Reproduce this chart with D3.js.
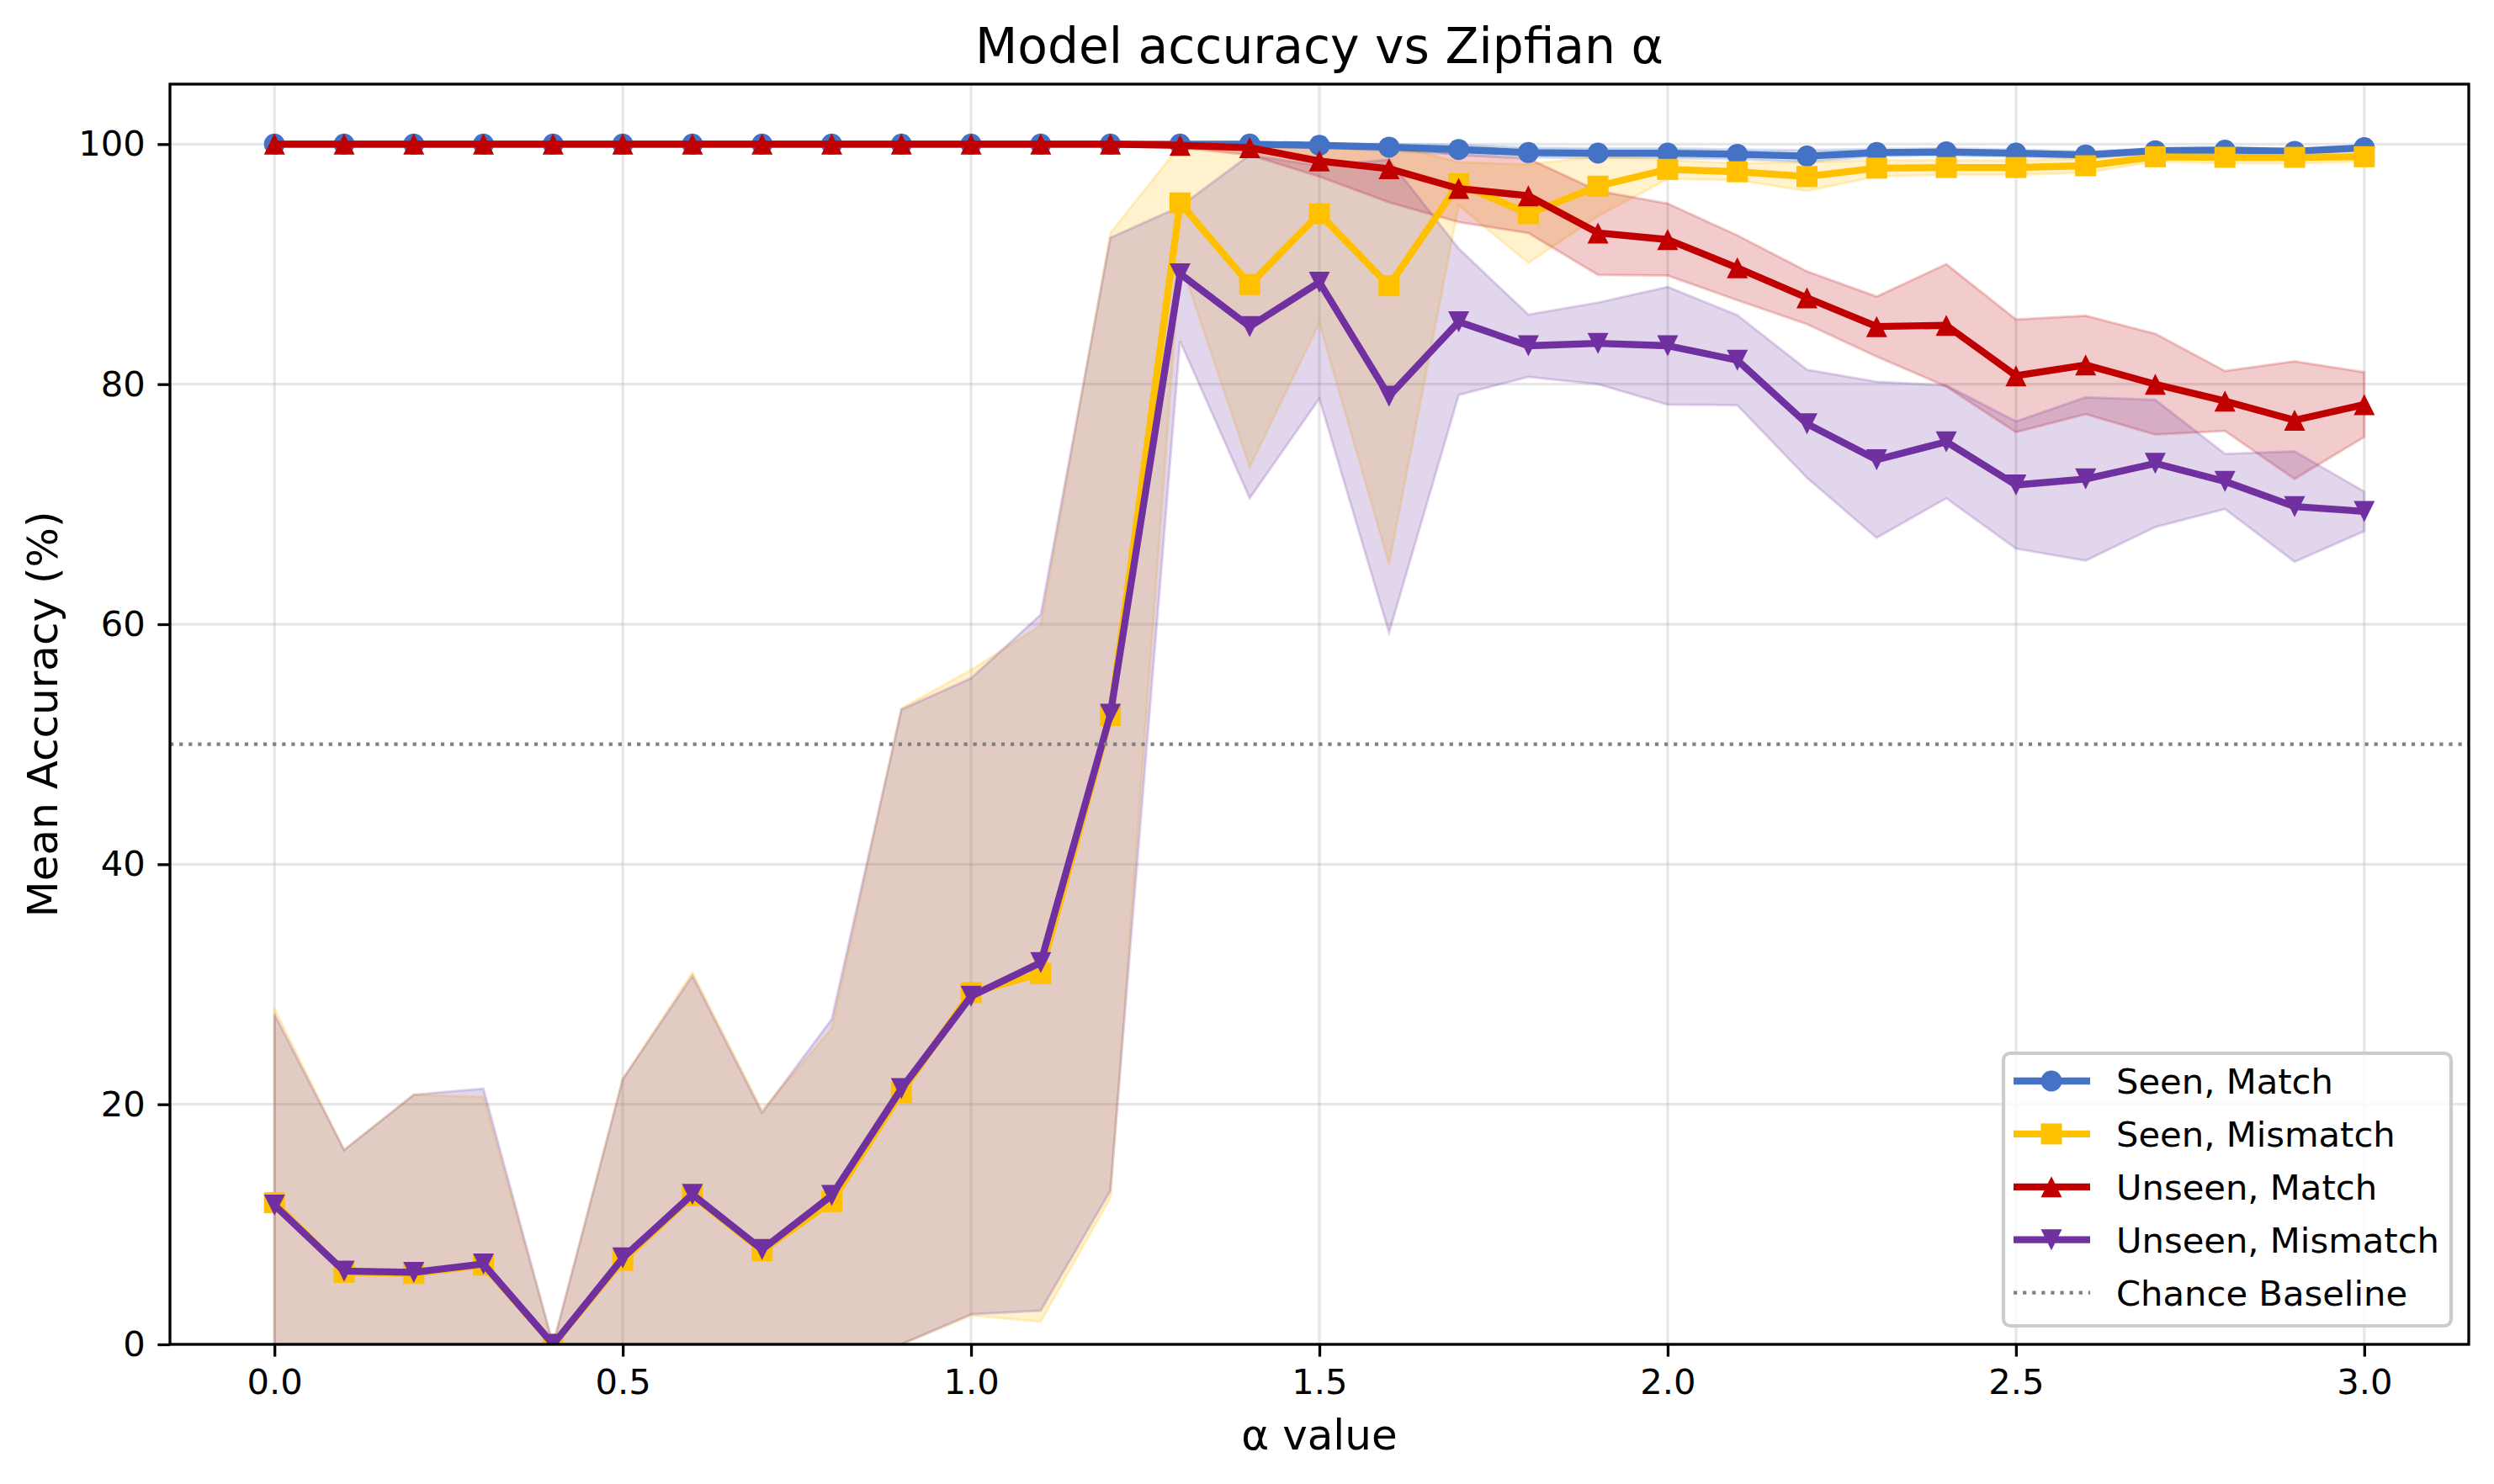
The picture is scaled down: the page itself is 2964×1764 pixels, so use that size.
<!DOCTYPE html>
<html>
<head>
<meta charset="utf-8">
<script src="https://cdn.jsdelivr.net/npm/d3@7"></script>
<style>
    body { margin: 0; background: #fff; }
    svg { font-family: "DejaVu Sans", sans-serif; display: block; }
</style>
</head>
<body>
<svg id="drawing_region"></svg>
<script>
// alpha values (x axis)
const alphas = [0.0, 0.1, 0.2, 0.3, 0.4, 0.5, 0.6, 0.7, 0.8, 0.9, 1.0,
                1.1, 1.2, 1.3, 1.4, 1.5, 1.6, 1.7, 1.8, 1.9, 2.0,
                2.1, 2.2, 2.3, 2.4, 2.5, 2.6, 2.7, 2.8, 2.9, 3.0];

// mean accuracy per series
const seenMatch = [100, 100, 100, 100, 100, 100, 100, 100, 100, 100, 100,
                   100, 100, 100, 100, 99.9, 99.75, 99.55, 99.3, 99.25, 99.25,
                   99.15, 99.0, 99.3, 99.35, 99.25, 99.1, 99.45, 99.5, 99.4, 99.7];
const seenMismatch = [11.8, 6.0, 5.9, 6.6, 0, 7.0, 12.4, 7.8, 11.9, 21.0, 29.3,
                      30.9, 52.4, 95.1, 88.3, 94.2, 88.2, 96.7, 94.2, 96.5, 97.9,
                      97.7, 97.3, 98.0, 98.05, 98.05, 98.2, 98.95, 98.9, 98.9, 98.95];
const unseenMatch = [100, 100, 100, 100, 100, 100, 100, 100, 100, 100, 100,
                     100, 100, 99.9, 99.7, 98.6, 97.95, 96.3, 95.7, 92.6, 92.05,
                     89.7, 87.2, 84.8, 84.9, 80.7, 81.6, 80.0, 78.6, 77.0, 78.3];
const unseenMismatch = [11.6, 6.1, 6.0, 6.7, 0, 7.2, 12.5, 7.9, 12.4, 21.3, 29.0,
                        31.8, 52.5, 89.2, 84.8, 88.5, 79.0, 85.2, 83.2, 83.4, 83.2,
                        82.0, 76.7, 73.7, 75.2, 71.6, 72.1, 73.4, 71.9, 69.8, 69.4];

// spread (std) per series, band is clipped to [0, 100]
const seenMatchStd = [0, 0, 0, 0, 0, 0, 0, 0, 0, 0, 0,
                      0, 0, 0, 0.1, 0.2, 0.3, 0.4, 0.4, 0.4, 0.4,
                      0.4, 0.5, 0.3, 0.3, 0.3, 0.3, 0.2, 0.2, 0.2, 0.2];
const seenMismatchStd = [16.2, 10.2, 14.9, 14.0, 0, 15.1, 18.6, 11.7, 14.4, 32.0, 26.9,
                         29.0, 40.2, 4.8, 15.2, 9.1, 23.2, 1.8, 4.1, 2.5, 0.8,
                         0.7, 1.2, 0.7, 0.6, 0.6, 0.6, 0.4, 0.5, 0.5, 0.4];
const unseenMatchStd = [0, 0, 0, 0, 0, 0, 0, 0, 0, 0, 0,
                        0, 0, 0.2, 0.6, 1.3, 2.8, 2.8, 3.1, 3.5, 3.0,
                        2.7, 2.2, 2.5, 5.1, 4.7, 4.1, 4.2, 2.5, 4.9, 2.7];
const unseenMismatchStd = [15.9, 10.1, 14.8, 14.6, 0, 14.9, 18.2, 11.4, 14.7, 31.6, 26.5,
                           29.0, 39.7, 5.6, 14.3, 9.7, 19.7, 6.1, 2.6, 3.4, 4.9,
                           3.75, 4.5, 6.5, 4.7, 5.3, 6.8, 5.3, 2.3, 4.6, 1.65];

const seriesNames = ['Seen, Match', 'Seen, Mismatch', 'Unseen, Match', 'Unseen, Mismatch'];
const seriesColors = ['#4472C4', '#FFC000', '#C00000', '#7030A0'];
const seriesMarkers = ['circle', 'square', 'triangleUp', 'triangleDown'];

const xTicks = [0.0, 0.5, 1.0, 1.5, 2.0, 2.5, 3.0];
const yTicks = [0, 20, 40, 60, 80, 100];
const chanceLevel = 50;

class AccuracyChart {
    constructor(config, series) {
        this.config = config;
        this.series = series;
        this.init();
    }

    init() {
        let self = this;

        self.svg = d3.select(self.config.parent)
            .attr('width', self.config.width)
            .attr('height', self.config.height);

        self.inner_width = self.config.width - self.config.margin.left - self.config.margin.right;
        self.inner_height = self.config.height - self.config.margin.top - self.config.margin.bottom;

        self.chart = self.svg.append('g')
            .attr('transform', `translate(${self.config.margin.left},${self.config.margin.top})`);

        self.svg.append('defs').append('clipPath')
            .attr('id', 'plot-clip')
            .append('rect')
            .attr('width', self.inner_width)
            .attr('height', self.inner_height);

        self.xscale = d3.scaleLinear()
            .domain([-0.15, 3.15])
            .range([0, self.inner_width]);

        self.yscale = d3.scaleLinear()
            .domain([0, 105])
            .range([self.inner_height, 0]);
    }

    marker(type) {
        const r = 12.5;
        if (type === 'circle') return d3.symbol().type(d3.symbolCircle).size(Math.PI * r * r)();
        if (type === 'square') return `M${-r},${-r}H${r}V${r}H${-r}Z`;
        if (type === 'triangleUp') return `M0,${-r}L${r},${r}L${-r},${r}Z`;
        return `M0,${r}L${r},${-r}L${-r},${-r}Z`;
    }

    render() {
        let self = this;
        const lw = 8.3;

        // grid
        self.chart.append('g')
            .selectAll('line').data(xTicks).join('line')
            .attr('x1', d => self.xscale(d)).attr('x2', d => self.xscale(d))
            .attr('y1', 0).attr('y2', self.inner_height)
            .attr('stroke', '#b0b0b0').attr('stroke-opacity', 0.3).attr('stroke-width', 3.3);
        self.chart.append('g')
            .selectAll('line').data(yTicks).join('line')
            .attr('x1', 0).attr('x2', self.inner_width)
            .attr('y1', d => self.yscale(d)).attr('y2', d => self.yscale(d))
            .attr('stroke', '#b0b0b0').attr('stroke-opacity', 0.3).attr('stroke-width', 3.3);

        const plot = self.chart.append('g').attr('clip-path', 'url(#plot-clip)');

        const area = d3.area()
            .x(d => self.xscale(d.a))
            .y0(d => self.yscale(Math.max(0, d.m - d.s)))
            .y1(d => self.yscale(Math.min(100, d.m + d.s)));

        const line = d3.line()
            .x(d => self.xscale(d.a))
            .y(d => self.yscale(d.m));

        self.series.forEach(s => {
            plot.append('path')
                .attr('d', area(s.points))
                .attr('fill', s.color).attr('fill-opacity', 0.2)
                .attr('stroke', s.color).attr('stroke-opacity', 0.2).attr('stroke-width', 3);
        });

        self.series.forEach(s => {
            plot.append('path')
                .attr('d', line(s.points))
                .attr('fill', 'none')
                .attr('stroke', s.color)
                .attr('stroke-width', lw)
                .attr('stroke-linejoin', 'round');
            plot.append('g')
                .selectAll('path').data(s.points).join('path')
                .attr('transform', d => `translate(${self.xscale(d.a)},${self.yscale(d.m)})`)
                .attr('d', self.marker(s.marker))
                .attr('fill', s.color);
        });

        // chance baseline
        plot.append('line')
            .attr('x1', 0).attr('x2', self.inner_width)
            .attr('y1', self.yscale(chanceLevel)).attr('y2', self.yscale(chanceLevel))
            .attr('stroke', '#808080').attr('stroke-width', 4.2)
            .attr('stroke-dasharray', '4.2 6.9');

        // axes
        const xaxis = d3.axisBottom(self.xscale)
            .tickValues(xTicks).tickFormat(d3.format('.1f'))
            .tickSize(14.6).tickPadding(14.6).tickSizeOuter(0);
        const yaxis = d3.axisLeft(self.yscale)
            .tickValues(yTicks).tickFormat(d3.format('d'))
            .tickSize(14.6).tickPadding(14.6).tickSizeOuter(0);

        const xg = self.chart.append('g')
            .attr('transform', `translate(0,${self.inner_height})`)
            .call(xaxis);
        const yg = self.chart.append('g').call(yaxis);
        [xg, yg].forEach(g => {
            g.select('.domain').remove();
            g.selectAll('.tick line').attr('stroke', '#000').attr('stroke-width', 3.3);
            g.selectAll('.tick text')
                .attr('font-family', '"DejaVu Sans", sans-serif')
                .attr('font-size', 41.7).attr('fill', '#000');
        });

        // frame
        self.chart.append('rect')
            .attr('width', self.inner_width).attr('height', self.inner_height)
            .attr('fill', 'none').attr('stroke', '#000').attr('stroke-width', 3.3);

        // titles
        self.svg.append('text')
            .attr('x', self.config.margin.left + self.inner_width / 2).attr('y', 75)
            .attr('text-anchor', 'middle').attr('font-size', 58.3)
            .text('Model accuracy vs Zipfian α');
        self.svg.append('text')
            .attr('x', self.config.margin.left + self.inner_width / 2).attr('y', 1723)
            .attr('text-anchor', 'middle').attr('font-size', 50)
            .text('α value');
        self.svg.append('text')
            .attr('transform', `translate(68,${self.config.margin.top + self.inner_height / 2}) rotate(-90)`)
            .attr('text-anchor', 'middle').attr('font-size', 50)
            .text('Mean Accuracy (%)');

        // legend
        const legend = self.svg.append('g');
        legend.append('rect')
            .attr('x', 2381).attr('y', 1252).attr('width', 532).attr('height', 324)
            .attr('rx', 8).attr('fill', '#fff').attr('fill-opacity', 0.8)
            .attr('stroke', '#cccccc').attr('stroke-width', 4.2);
        const rowY = i => 1285 + i * 62.9;
        self.series.forEach((s, i) => {
            legend.append('line')
                .attr('x1', 2393).attr('x2', 2484).attr('y1', rowY(i)).attr('y2', rowY(i))
                .attr('stroke', s.color).attr('stroke-width', lw);
            legend.append('path')
                .attr('transform', `translate(2438,${rowY(i)})`)
                .attr('d', self.marker(s.marker)).attr('fill', s.color);
            legend.append('text')
                .attr('x', 2515).attr('y', rowY(i) + 15)
                .attr('font-size', 41.7).text(s.name);
        });
        legend.append('line')
            .attr('x1', 2393).attr('x2', 2484).attr('y1', rowY(4)).attr('y2', rowY(4))
            .attr('stroke', '#808080').attr('stroke-width', 4.2)
            .attr('stroke-dasharray', '4.2 6.9');
        legend.append('text')
            .attr('x', 2515).attr('y', rowY(4) + 15)
            .attr('font-size', 41.7).text('Chance Baseline');
    }
}

const means = [seenMatch, seenMismatch, unseenMatch, unseenMismatch];
const stds = [seenMatchStd, seenMismatchStd, unseenMatchStd, unseenMismatchStd];
const series = seriesNames.map((name, k) => ({
    name: name,
    color: seriesColors[k],
    marker: seriesMarkers[k],
    points: alphas.map((a, i) => ({ a: a, m: means[k][i], s: stds[k][i] }))
}));

const config = {
    parent: '#drawing_region',
    width: 2964,
    height: 1764,
    margin: { top: 100, right: 30, bottom: 166, left: 202 }
};

const chart = new AccuracyChart(config, series);
chart.render();
</script>
</body>
</html>
